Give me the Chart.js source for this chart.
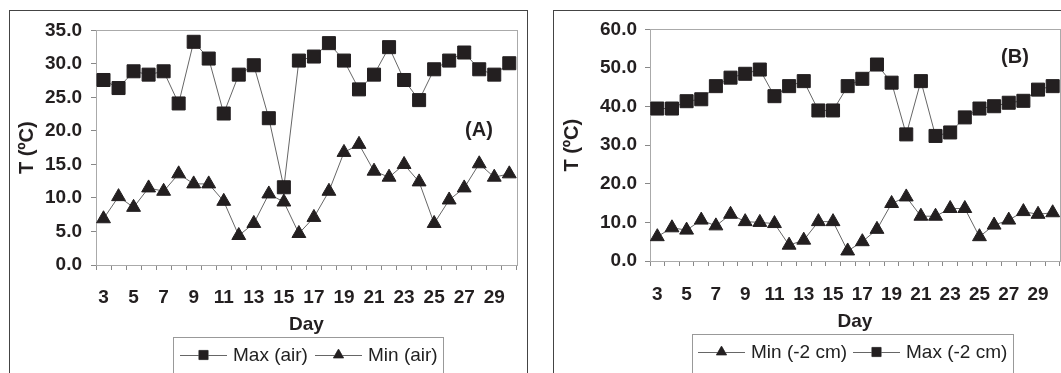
<!DOCTYPE html>
<html lang="en">
<head>
    <meta charset="UTF-8">
    <title>T (°C) - Day</title>
    <script src="https://cdn.jsdelivr.net/npm/chart.js"></script>
    <style>
        body { margin: 0; background: #fff; overflow: hidden; }
        #page { position: relative; width: 1061px; height: 373px; overflow: hidden; }
        .frame { position: absolute; border: 1px solid #444; box-sizing: border-box; }
        canvas { position: absolute; }
    </style>
</head>
<body>
<div id="page">
    <div class="frame" style="left:9px; top:10px; width:519px; height:420px;"></div>
    <div class="frame" style="left:553px; top:10px; width:540px; height:420px;"></div>
    <canvas id="chartA" style="left:9px; top:10px; width:518px; height:363px;"></canvas>
    <canvas id="chartB" style="left:553px; top:10px; width:520px; height:363px;"></canvas>
</div>

<script>
    // days of the month (x categories)
    const days = [3, 4, 5, 6, 7, 8, 9, 10, 11, 12, 13, 14, 15, 16, 17, 18, 19, 20, 21, 22, 23, 24, 25, 26, 27, 28, 29, 30];

    // (A) air temperature
    const maxAir = [27.6, 26.4, 28.9, 28.4, 28.9, 24.1, 33.3, 30.8, 22.6, 28.4, 29.8, 21.9, 11.6, 30.5,
                    31.1, 33.1, 30.5, 26.2, 28.4, 32.5, 27.6, 24.6, 29.2, 30.5, 31.7, 29.2, 28.4, 30.1];
    const minAir = [6.9, 10.2, 8.6, 11.5, 11.0, 13.6, 12.1, 12.1, 9.5, 4.4, 6.2, 10.6, 9.4, 4.7,
                    7.1, 11.0, 16.8, 18.0, 14.0, 13.1, 15.0, 12.4, 6.2, 9.7, 11.5, 15.1, 13.1, 13.6];

    // (B) soil temperature at -2 cm
    const maxSoil = [39.5, 39.5, 41.4, 41.9, 45.3, 47.5, 48.5, 49.6, 42.7, 45.3, 46.6, 39.0, 39.0, 45.3,
                     47.2, 50.9, 46.2, 32.8, 46.6, 32.4, 33.3, 37.2, 39.5, 40.1, 41.0, 41.5, 44.4, 45.3];
    const minSoil = [6.3, 8.6, 8.0, 10.6, 9.1, 12.1, 10.2, 10.0, 9.7, 4.1, 5.4, 10.2, 10.2, 2.6,
                     5.0, 8.2, 14.9, 16.6, 11.6, 11.6, 13.6, 13.6, 6.3, 9.3, 10.6, 12.8, 12.1, 12.5];

    const FONT = "'Liberation Sans', Arial, sans-serif";
    const INK = '#231f20';

    function series(label, data, style) {
        return {
            label: label,
            data: data,
            borderColor: '#666',
            borderWidth: 1,
            backgroundColor: INK,
            pointStyle: style,
            pointRadius: style === 'rect' ? 9.2 : 8,
            pointBackgroundColor: INK,
            pointBorderColor: INK,
            pointBorderWidth: 1,
            tension: 0,
            clip: false
        };
    }

    // plot frame, legend box and the panel letter
    const extras = {
        id: 'extras',
        beforeDatasetsDraw(chart) {
            const a = chart.chartArea;
            const ctx = chart.ctx;
            ctx.save();
            ctx.strokeStyle = '#aaa';
            ctx.lineWidth = 1;
            ctx.strokeRect(Math.round(a.left) + 0.5, Math.round(a.top) + 0.5,
                           Math.round(a.right - a.left), Math.round(a.bottom - a.top));
            ctx.restore();
        },
        afterDraw(chart, args, opts) {
            const ctx = chart.ctx;
            ctx.save();
            // letter
            ctx.fillStyle = INK;
            ctx.font = 'bold 20px ' + FONT;
            ctx.textAlign = 'center';
            ctx.textBaseline = 'middle';
            ctx.fillText(opts.letter, opts.letterX, opts.letterY);

            // legend
            const b = opts.box;
            ctx.strokeStyle = '#999';
            ctx.lineWidth = 1;
            ctx.strokeRect(b[0] + 0.5, b[1] + 0.5, b[2], b[3]);
            ctx.font = '19px ' + FONT;
            ctx.textAlign = 'left';
            opts.items.forEach(it => {
                const ds = chart.data.datasets[it.index];
                ctx.strokeStyle = '#666';
                ctx.beginPath();
                ctx.moveTo(it.x0, opts.y + 0.5);
                ctx.lineTo(it.x0 + 47, opts.y + 0.5);
                ctx.stroke();
                Chart.helpers.drawPoint(ctx, {
                    pointStyle: ds.pointStyle, radius: ds.pointStyle === 'rect' ? 6.5 : 6,
                    rotation: 0, borderWidth: 1
                }, it.x0 + 23.5, opts.y);
                ctx.fillStyle = INK;
                ctx.fill();
                ctx.fillStyle = '#222';
                ctx.fillText(ds.label, it.x0 + 53, opts.y + 1);
            });
            ctx.restore();
        }
    };

    function makeChart(id, datasets, yMax, yStep, dims, extraOpts) {
        const ctx = document.getElementById(id);
        return new Chart(ctx, {
            type: 'line',
            data: { labels: days, datasets: datasets },
            options: {
                responsive: false,
                animation: false,
                devicePixelRatio: 1,
                layout: { padding: dims.padding },
                plugins: {
                    legend: { display: false },
                    tooltip: { enabled: false },
                    extras: extraOpts
                },
                scales: {
                    x: {
                        type: 'category',
                        offset: true,
                        afterFit: s => { s.height = dims.xHeight; },
                        grid: {
                            offset: true,
                            drawOnChartArea: false,
                            drawTicks: true,
                            tickLength: 5,
                            color: '#888'
                        },
                        border: { color: '#888', width: 1 },
                        ticks: {
                            autoSkip: false,
                            maxRotation: 0,
                            padding: dims.xPad,
                            color: INK,
                            font: { family: FONT, size: 19, weight: 'bold' },
                            callback: (v, i) => (i % 2 === 0 ? days[i] : '')
                        },
                        title: {
                            display: true,
                            text: 'Day',
                            color: INK,
                            padding: { top: 0, bottom: 0 },
                            font: { family: FONT, size: 19, weight: 'bold' }
                        }
                    },
                    y: {
                        min: 0,
                        max: yMax,
                        afterFit: s => { s.width = dims.yWidth; },
                        grid: {
                            drawOnChartArea: false,
                            drawTicks: true,
                            tickLength: 5,
                            color: '#888'
                        },
                        border: { color: '#888', width: 1 },
                        ticks: {
                            stepSize: yStep,
                            padding: dims.yPad,
                            color: INK,
                            font: { family: FONT, size: 19, weight: 'bold' },
                            callback: v => v.toFixed(1)
                        },
                        title: {
                            display: true,
                            text: 'T (ºC)',
                            color: INK,
                            padding: { top: dims.yTitlePad, bottom: 0 },
                            font: { family: FONT, size: 20, weight: 'bold' }
                        }
                    }
                }
            },
            plugins: [extras]
        });
    }

    document.getElementById('chartA').width = 518;
    document.getElementById('chartA').height = 363;
    document.getElementById('chartB').width = 520;
    document.getElementById('chartB').height = 363;

    makeChart('chartA',
        [series('Max (air)', maxAir, 'rect'), series('Min (air)', minAir, 'triangle')],
        35, 5,
        { padding: { left: 0, top: 19, right: 10, bottom: 37 }, xHeight: 71, yWidth: 87, xPad: 16, yPad: 9, yTitlePad: 6 },
        { letter: '(A)', letterX: 470, letterY: 120, box: [164, 327, 270, 60], y: 345,
          items: [{ index: 0, x0: 171 }, { index: 1, x0: 306 }] });

    makeChart('chartB',
        [series('Min (-2 cm)', minSoil, 'triangle'), series('Max (-2 cm)', maxSoil, 'rect')],
        60, 10,
        { padding: { left: 0, top: 19, right: 13, bottom: 40 }, xHeight: 72, yWidth: 97, xPad: 17, yPad: 8, yTitlePad: 7 },
        { letter: '(B)', letterX: 462, letterY: 47, box: [139, 324, 321, 60], y: 342,
          items: [{ index: 0, x0: 145 }, { index: 1, x0: 300 }] });
</script>
</body>
</html>
